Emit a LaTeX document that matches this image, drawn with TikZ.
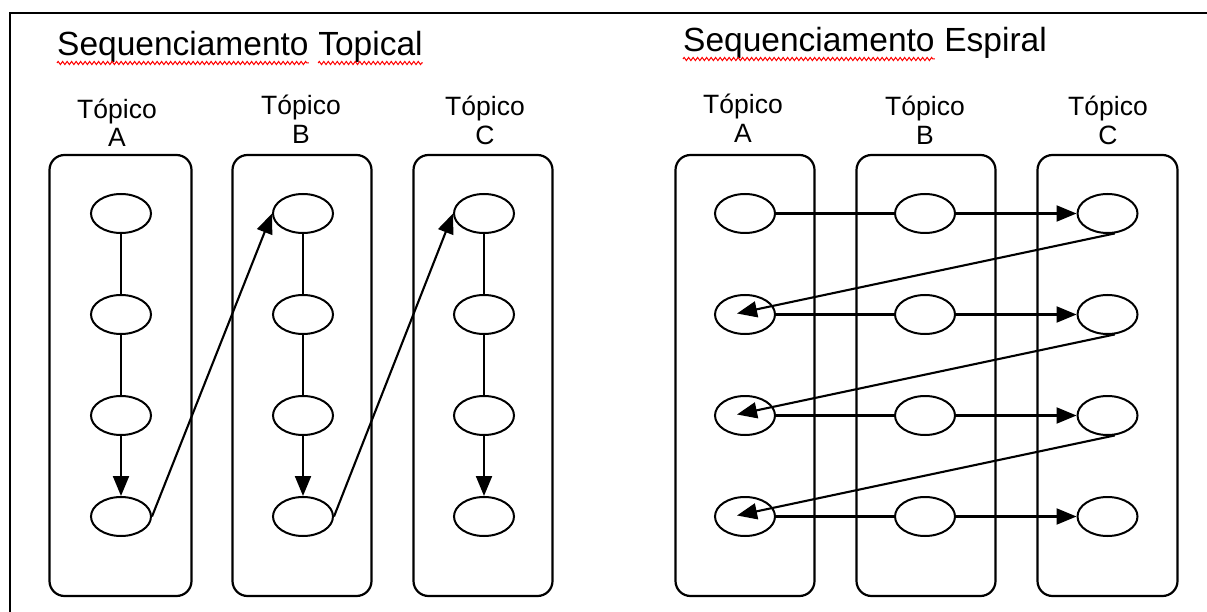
\documentclass[tikz,border=0pt]{standalone}
\usepackage{fontspec}
\setmainfont{Liberation Sans}
\usetikzlibrary{arrows.meta,calc,shapes.geometric,decorations.pathmorphing}
\begin{document}
\begin{tikzpicture}[x=1pt,y=-1pt,
  frame/.style={line width=2.2pt},
  topicbox/.style={draw, line width=2.2pt, rounded corners=15pt, minimum height=441pt, inner sep=0pt},
  item/.style={draw, ellipse, line width=2pt, minimum width=60pt, minimum height=39pt, inner sep=0pt},
  link/.style={line width=2.1pt},
  flow/.style={line width=2.1pt, -{Triangle[length=20pt,width=16pt]}},
  title/.style={font=\fontsize{33.5}{40}\selectfont, inner sep=0pt, anchor=base west},
  toplabel/.style={font=\fontsize{26.5}{30}\selectfont, inner sep=0pt, anchor=base},
  spell/.style={draw=red, line width=1pt, decorate,
    decoration={zigzag, segment length=4.5pt, amplitude=1.6pt}}
]
\useasboundingbox (0,0) rectangle (1207,612);

% outer frame (left and top edges)
\coordinate (fb) at (10,612);
\coordinate (ft) at (10,13);
\coordinate (fr) at (1207,13);
\draw[frame] (fb) -- (ft) -- (fr);

% ---------- titles with spelling underlines ----------
\node[title] (lt1) at (57,56) {Sequenciamento};
\node[title] (lt2) at ([xshift=9.3pt]lt1.base east) {Topical};
\node[title] (rt1) at (683,52) {Sequenciamento};
\node[title] (rt2) at ([xshift=9.3pt]rt1.base east) {Espiral};
\draw[spell] ([yshift=-7pt]lt1.base west) -- ([yshift=-7pt]lt1.base east);
\draw[spell] ([yshift=-7pt]lt2.base west) -- ([yshift=-7pt]lt2.base east);
\draw[spell] ([yshift=-7pt]rt1.base west) -- ([yshift=-7pt]rt1.base east);

% ---------- column headings ----------
\node[toplabel] (hLA) at (117,119) {Tópico};
\node[toplabel] (hLAl) at (117,147) {A};
\node[toplabel] (hLB) at (301,115) {Tópico};
\node[toplabel] (hLBl) at (301,144) {B};
\node[toplabel] (hLC) at (485,116) {Tópico};
\node[toplabel] (hLCl) at (485,145) {C};
\node[toplabel] (hRA) at (743,114) {Tópico};
\node[toplabel] (hRAl) at (743,143) {A};
\node[toplabel] (hRB) at (925,116) {Tópico};
\node[toplabel] (hRBl) at (925,145) {B};
\node[toplabel] (hRC) at (1108,116) {Tópico};
\node[toplabel] (hRCl) at (1108,145) {C};

% ---------- topic boxes ----------
\node[topicbox, minimum width=142pt] (bLA) at (120.5,375.5) {};
\node[topicbox, minimum width=139pt] (bLB) at (302,375.5) {};
\node[topicbox, minimum width=139pt] (bLC) at (483,375.5) {};
\node[topicbox, minimum width=139pt] (bRA) at (745,375.5) {};
\node[topicbox, minimum width=139pt] (bRB) at (926,375.5) {};
\node[topicbox, minimum width=140pt] (bRC) at (1107.5,375.5) {};

% ---------- items ----------
\foreach \c/\x in {LA/121, LB/303, LC/484, RA/745, RB/925, RC/1107.5} {
  \foreach \r/\y in {1/213.5, 2/314.5, 3/415.5, 4/516.5} {
    \node[item] (\c\r) at (\x,\y) {};
  }
}

% ---------- topical sequencing ----------
\foreach \c in {LA, LB, LC} {
  \draw[link] (\c1) -- (\c2);
  \draw[link] (\c2) -- (\c3);
  \draw[flow] (\c3) -- (\c4);
}
\draw[flow] (LA4.east) -- (LB1.west);
\draw[flow] (LB4.east) -- (LC1.west);

% ---------- spiral sequencing ----------
\foreach \r in {1,2,3,4} {
  \draw[link] (RA\r) -- (RB\r);
  \draw[flow] (RB\r) -- (RC\r);
}
\foreach \r/\n in {1/2, 2/3, 3/4} {
  \draw[flow] (RC\r.-70) -- ($(RA\n)+(-8,-1)$);
}
\end{tikzpicture}
\end{document}
